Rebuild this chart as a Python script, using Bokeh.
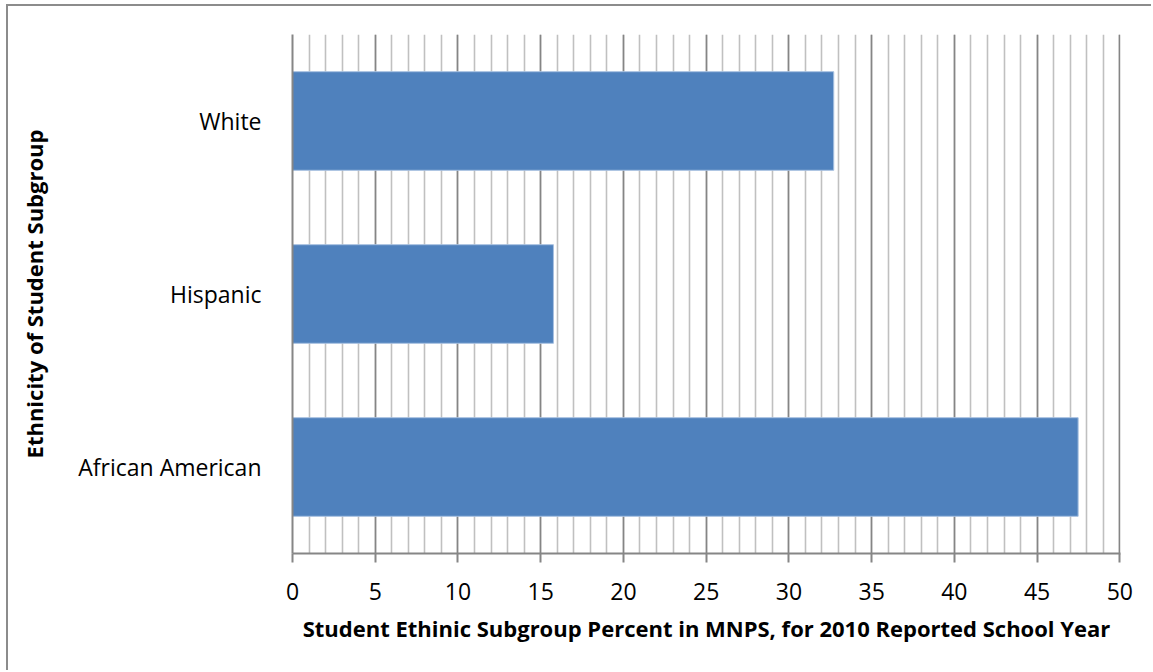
from bokeh.plotting import figure
from bokeh.models import SingleIntervalTicker
from bokeh.embed import file_html
from bokeh.resources import INLINE

categories = ["African American", "Hispanic", "White"]
percents = [47.48, 15.77, 32.71]

FONT = "Open Sans"

p = figure(width=1145, height=666, y_range=categories, x_range=(0, 50.04),
           output_backend="svg", toolbar_location=None,
           min_border_left=284, min_border_right=33, min_border_top=28,
           min_border_bottom=119)
p.styles = {"border-left": "2px solid #8C8C8C", "border-top": "2px solid #8C8C8C",
            "margin-left": "6px", "margin-top": "4px"}
p.y_range.range_padding = 0
p.outline_line_color = None
p.background_fill_color = "white"
p.border_fill_color = "white"

p.hbar(y=categories, right=percents, left=0, height=0.57,
       fill_color="#4F81BD", line_color="#A7C0E0", line_width=1)

ticker = SingleIntervalTicker(interval=5, num_minor_ticks=5)
p.xaxis.ticker = ticker
p.xgrid.ticker = ticker
p.xgrid.grid_line_color = "#858585"
p.xgrid.grid_line_width = 1.6
p.xgrid.minor_grid_line_color = "#C0C0C0"
p.xgrid.minor_grid_line_width = 1.6
p.xgrid.level = "underlay"
p.ygrid.grid_line_color = None

xa = p.xaxis[0]
xa.axis_line_color = "#868686"
xa.axis_line_width = 2
xa.major_tick_line_color = "#868686"
xa.major_tick_line_width = 2
xa.major_tick_out = 9
xa.major_tick_in = 0
xa.minor_tick_line_color = None
xa.major_label_text_font = FONT
xa.major_label_text_font_size = "23px"
xa.major_label_text_color = "black"
xa.major_label_standoff = 20
xa.axis_label = "Student Ethinic Subgroup Percent in MNPS, for 2010 Reported School Year"
xa.axis_label_text_font = FONT
xa.axis_label_text_font_size = "22px"
xa.axis_label_text_font_style = "bold"
xa.axis_label_text_color = "black"
xa.axis_label_standoff = 10

ya = p.yaxis[0]
ya.axis_line_color = "#868686"
ya.axis_line_width = 2
ya.major_tick_line_color = None
ya.minor_tick_line_color = None
ya.major_label_text_font = FONT
ya.major_label_text_font_size = "23px"
ya.major_label_text_color = "black"
ya.major_label_standoff = 25
ya.axis_label = "Ethnicity of Student Subgroup"
ya.axis_label_text_font = FONT
ya.axis_label_text_font_size = "22px"
ya.axis_label_text_font_style = "bold"
ya.axis_label_text_color = "black"
ya.axis_label_standoff = 26

open("out.html", "w").write(file_html(p, INLINE))
